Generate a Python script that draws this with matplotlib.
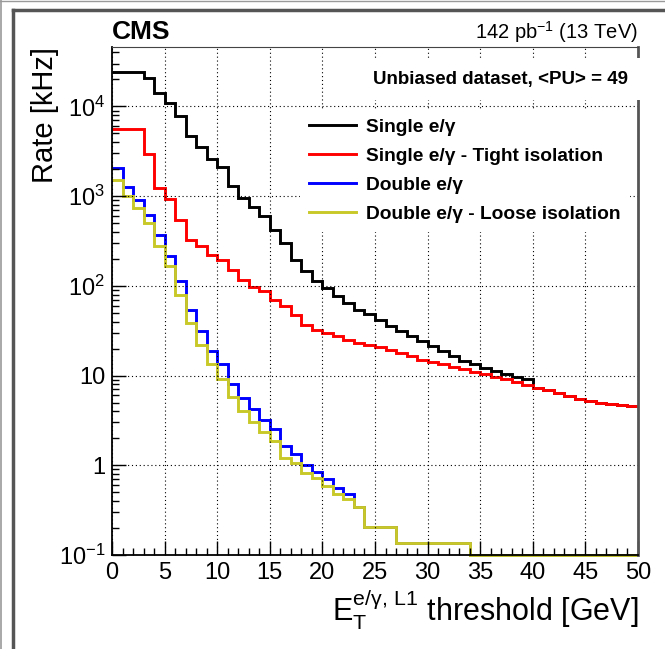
import matplotlib
matplotlib.use("Agg")
import matplotlib.pyplot as plt
from matplotlib.lines import Line2D
from matplotlib.ticker import FixedLocator, FixedFormatter, LogLocator, NullFormatter, MultipleLocator
import numpy as np

# bin edges: 1 GeV bins, 0..50
edges = np.arange(0, 51, 1)

single = [24200, 24200, 24200, 20700, 14300, 10900, 7740, 4720, 3490, 2590,
          2090, 1310, 955, 750, 596, 424, 301, 196, 146, 112,
          95, 77, 65, 54.5, 48, 42, 35.5, 31.2, 27.5, 24.2,
          21.2, 18.7, 16.4, 14.7, 13.3, 12.2, 11.2, 10.3, 9.7, 9.05,
          7.31, 6.87, 6.43, 5.90, 5.52, 5.19, 4.89, 4.81, 4.65, 4.55]
single_tight = [5650, 5650, 5650, 2970, 1233, 937, 547, 327, 276, 223,
                196, 152, 117.6, 97.5, 87, 70.3, 59.3, 47.9, 37, 32.6,
                29.9, 27.5, 25.2, 23.2, 21.8, 20.9, 19.5, 17.9, 16.4, 15.1,
                14.1, 13.3, 12.5, 11.7, 10.9, 10.3, 9.7, 9.06, 8.53, 7.76,
                7.31, 6.87, 6.43, 5.90, 5.52, 5.19, 4.89, 4.81, 4.65, 4.55]
double = [2040, 1275, 914, 622, 372, 214, 112, 54.5, 31.2, 18.7,
          13.3, 8.1, 5.6, 4.19, 3.2, 2.53, 1.66, 1.35, 1.01, 0.835,
          0.70, 0.56, 0.48, 0.346, 0.207, 0.207, 0.207, 0.137, 0.137, 0.137,
          0.137, 0.137, 0.137, 0.137, 0.1, 0.1, 0.1, 0.1, 0.1, 0.1,
          0.1, 0.1, 0.1, 0.1, 0.1, 0.1, 0.1, 0.1, 0.1, 0.1]
double_loose = [1527, 995, 739, 504, 276, 165, 80, 38.7, 22.2, 13.3,
                9.06, 5.8, 4.02, 3.03, 2.37, 1.86, 1.22, 1.07, 0.83, 0.73,
                0.59, 0.474, 0.417, 0.346, 0.207, 0.207, 0.207, 0.137, 0.137, 0.137,
                0.137, 0.137, 0.137, 0.137, 0.1, 0.1, 0.1, 0.1, 0.1, 0.1,
                0.1, 0.1, 0.1, 0.1, 0.1, 0.1, 0.1, 0.1, 0.1, 0.1]

labels = ["Single e/γ", "Single e/γ - Tight isolation",
          "Double e/γ", "Double e/γ - Loose isolation"]
colors = ["black", "#ff0000", "#0000ff", "#c8c828"]

xticks = [0, 5, 10, 15, 20, 25, 30, 35, 40, 45, 50]
yticks = [0.1, 1, 10, 100, 1000, 10000]
ytick_labels = [r"$\mathregular{10^{-1}}$", "1", "10",
                r"$\mathregular{10^{2}}$", r"$\mathregular{10^{3}}$",
                r"$\mathregular{10^{4}}$"]

plt.rcParams["font.family"] = ["Liberation Sans", "DejaVu Sans"]
plt.rcParams["mathtext.fontset"] = "custom"
plt.rcParams["mathtext.rm"] = "Liberation Sans"
plt.rcParams["mathtext.it"] = "Liberation Sans:italic"

W, H = 665, 649
fig = plt.figure(figsize=(W / 100, H / 100), dpi=100)
ax = fig.add_axes([112 / W, 1 - 555 / H, (638 - 112) / W, (555 - 47) / H])

for vals, c in zip([single, single_tight, double, double_loose], colors):
    ax.stairs(vals, edges, baseline=None, color=c, lw=2.1, clip_on=False)

ax.set_yscale("log")
ax.set_xlim(0, 50)
ax.set_ylim(0.1, 4.6e4)

ax.xaxis.set_major_locator(FixedLocator(xticks))
ax.xaxis.set_minor_locator(MultipleLocator(1))
ax.yaxis.set_major_locator(FixedLocator(yticks))
ax.yaxis.set_major_formatter(FixedFormatter(ytick_labels))
ax.yaxis.set_minor_locator(LogLocator(base=10, subs=np.arange(2, 10)))
ax.yaxis.set_minor_formatter(NullFormatter())
ax.tick_params(which="both", direction="in", width=1.0, labelsize=17)
ax.tick_params(which="major", length=10)
ax.tick_params(which="minor", length=5)
ax.tick_params(axis="x", pad=5)
ax.tick_params(axis="y", pad=5)

ax.grid(which="major", color="black", linestyle=(0, (1, 2.5)), lw=0.8)
for s in ["left", "bottom"]:
    ax.spines[s].set_linewidth(1.3)
ax.spines["top"].set_color("#444444")
ax.spines["right"].set_color("#555555")
ax.spines["right"].set_linewidth(2)

ax.set_ylabel("Rate [kHz]", fontsize=21, loc="top")
ax.yaxis.set_label_coords(-0.128, 1.0)
ax.yaxis.label.set_va("center")
ax.set_xlabel(r"$\mathregular{E_T^{e/\gamma,\,L1}}$ threshold [GeV]", fontsize=22, loc="right")
ax.xaxis.set_label_coords(1.0, -0.108)
ax.xaxis.label.set_va("center")

ax.text(0.0, 1.03, "CMS", transform=ax.transAxes, fontsize=19, fontweight="bold",
        ha="left", va="center")
ax.text(1.0, 1.03, r"142 pb$^{\mathregular{-1}}$ (13 TeV)", transform=ax.transAxes,
        fontsize=14.5, ha="right", va="center")
ax.text(0.981, 0.937, "Unbiased dataset, <PU> = 49", transform=ax.transAxes,
        fontsize=13.5, fontweight="bold", ha="right", va="center",
        bbox=dict(facecolor="white", edgecolor="none", pad=9))

handles = [Line2D([], [], color=c, lw=2.1) for c in colors]
leg = ax.legend(handles, labels, loc="upper left", bbox_to_anchor=(0.357, 0.878),
                prop={"weight": "bold", "size": 13.8}, frameon=True, fancybox=False,
                edgecolor="none", facecolor="white", framealpha=1,
                handlelength=2.45, handletextpad=0.5, labelspacing=0.6,
                borderpad=0.5, borderaxespad=0)
leg.set_zorder(5)

# outer canvas frame
fig.add_artist(Line2D([0, 1], [1 - 0.5 / H] * 2, color="#9a9a9a", lw=1))
fig.add_artist(Line2D([0.5 / W] * 2, [0, 1], color="#9a9a9a", lw=1.2))
fig.add_artist(Line2D([12.5 / W, 1], [1 - 9.5 / H] * 2, color="#555555", lw=2.5))
fig.add_artist(Line2D([12.5 / W] * 2, [0, 1 - 9.5 / H], color="#555555", lw=2.5))

fig.savefig("out.png", dpi=100)
